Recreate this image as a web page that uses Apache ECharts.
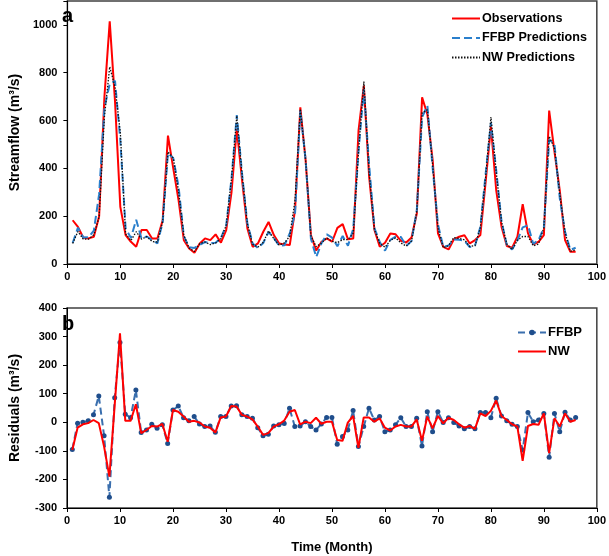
<!DOCTYPE html>
<html>
<head>
<meta charset="utf-8">
<script src="https://cdn.jsdelivr.net/npm/echarts@6/dist/echarts.min.js"></script>
<style>
html,body{margin:0;padding:0;background:#fff;}
#c{width:609px;height:556px;}
</style>
</head>
<body>
<div id="c"></div>
<script>
var months = [1,2,3,4,5,6,7,8,9,10,11,12,13,14,15,16,17,18,19,20,21,22,23,24,25,26,27,28,29,30,31,32,33,34,35,36,37,38,39,40,41,42,43,44,45,46,47,48,49,50,51,52,53,54,55,56,57,58,59,60,61,62,63,64,65,66,67,68,69,70,71,72,73,74,75,76,77,78,79,80,81,82,83,84,85,86,87,88,89,90,91,92,93,94,95,96];

var observations = [183,155,111,107,114,200,700,1015,680,239,121,93,72,142,142,107,107,183,537,400,267,100,65,47,86,
107,100,124,89,142,300,565,350,149,72,86,135,176,121,86,82,79,225,655,433,121,56,93,107,93,
151,167,103,107,560,746,364,142,72,89,128,124,97,90,111,211,697,625,433,128,72,61,103,114,120,
86,100,121,343,575,308,156,75,68,114,250,128,82,93,121,642,470,308,100,51,51];

var ffbpPred = [88,152,111,112,140,292,653,753,766,518,149,109,185,106,115,100,86,174,463,443,324,116,70,67,80,
92,87,89,109,162,357,623,376,169,86,67,88,134,108,77,78,128,210,642,435,106,29,87,124,110,
74,117,76,148,475,731,413,150,92,56,101,115,113,75,96,225,614,662,400,165,71,77,102,101,97,
71,77,155,377,591,392,178,80,61,99,153,162,84,101,152,520,501,275,135,59,68];

var nwPred = [86,136,104,104,122,197,615,825,740,550,126,98,135,104,115,94,92,177,469,443,304,120,67,52,85,
92,81,88,106,162,357,620,376,169,82,71,91,138,106,79,88,116,268,648,435,118,72,88,109,95,
89,102,102,129,471,763,381,144,86,70,99,109,88,75,96,221,632,645,412,150,68,77,111,107,101,
73,77,152,365,615,384,178,83,61,99,115,115,76,84,152,534,484,293,131,53,59];

var ffbpResid = [-95,-3,0,5,26,92,-47,-262,86,279,28,16,113,-36,-27,-7,-21,-9,-74,43,57,16,5,20,-6,
-15,-13,-35,20,20,57,58,26,20,14,-19,-47,-42,-13,-9,-4,49,-15,-13,2,-15,-27,-6,17,17,
-77,-50,-27,41,-85,-15,49,8,20,-33,-27,-9,16,-15,-15,14,-83,37,-33,37,-1,16,-1,-13,-23,
-15,-23,34,34,16,84,22,5,-7,-15,-97,34,2,8,31,-122,31,-33,35,8,17];

var nwResid = [-97,-19,-7,-3,8,-3,-85,-190,60,311,5,5,63,-38,-27,-13,-15,-6,-68,43,37,20,2,5,-1,
-15,-19,-36,17,20,57,55,26,20,10,-15,-44,-38,-15,-7,6,37,43,-7,2,-3,16,-5,2,2,
-62,-65,-1,22,-89,17,17,2,14,-19,-29,-15,-9,-15,-15,10,-65,20,-21,22,-4,16,8,-7,-19,
-13,-23,31,22,40,76,22,8,-7,-15,-135,-13,-6,-9,31,-108,14,-15,31,2,8];

var xTicks = [0,10,20,30,40,50,60,70,80,90,100];
var flowTicks = [0,200,400,600,800,1000];
var residTicks = [-300,-200,-100,0,100,200,300,400];

function pairs(xs, ys){ return xs.map(function(x,i){ return [x, ys[i]]; }); }

var FONT = 'Arial, "Liberation Sans", sans-serif';
var chart = echarts.init(document.getElementById('c'), null, {renderer:'canvas'});

function xAxisCfg(gi){
  return {
    gridIndex: gi, type:'value', min:0, max:100, interval:10,
    axisLine:{show:true, onZero:false, lineStyle:{color:'#000', width:1}},
    axisTick:{show:true, inside:false, length:4, lineStyle:{color:'#000'}},
    axisLabel:{color:'#000', fontWeight:'bold', fontSize:11, fontFamily:FONT, margin:7,
      formatter:function(v){ return xTicks.indexOf(v) >= 0 ? String(v) : ''; }},
    splitLine:{show:false}
  };
}

var hidden = {opacity:0};

var option = {
  animation:false,
  backgroundColor:'#fff',
  grid:[
    {left:57, top:1, width:541, height:263, show:true, borderColor:'#404040', borderWidth:1.5, backgroundColor:'transparent'},
    {left:57, top:308, width:541, height:200, show:true, borderColor:'#404040', borderWidth:1.5, backgroundColor:'transparent'}
  ],
  xAxis:[ xAxisCfg(0), Object.assign(xAxisCfg(1), {
      name:'Time (Month)', nameLocation:'middle', nameGap:33,
      nameTextStyle:{color:'#000', fontWeight:'bold', fontSize:13, fontFamily:FONT}
  })],
  yAxis:[
    {gridIndex:0, type:'value', min:0, max:1100, interval:200,
     name:'Streamflow (m³/s)', nameLocation:'middle', nameGap:45,
     nameTextStyle:{color:'#000', fontWeight:'bold', fontSize:14, fontFamily:FONT},
     axisLine:{show:true, lineStyle:{color:'#000', width:1}},
     axisTick:{show:true, length:4, lineStyle:{color:'#000'}},
     axisLabel:{color:'#000', fontWeight:'bold', fontSize:11, fontFamily:FONT, margin:10,
       formatter:function(v){ return flowTicks.indexOf(v) >= 0 ? String(v) : ''; }},
     splitLine:{show:false}},
    {gridIndex:1, type:'value', min:-300, max:400, interval:100,
     name:'Residuals (m³/s)', nameLocation:'middle', nameGap:45,
     nameTextStyle:{color:'#000', fontWeight:'bold', fontSize:14, fontFamily:FONT},
     axisLine:{show:true, onZero:false, lineStyle:{color:'#000', width:1}},
     axisTick:{show:true, length:4, lineStyle:{color:'#000'}},
     axisLabel:{color:'#000', fontWeight:'bold', fontSize:11, fontFamily:FONT, margin:10,
       formatter:function(v){ return residTicks.indexOf(v) >= 0 ? String(v) : ''; }},
     splitLine:{show:false}}
  ],
  legend:[
    {data:[{name:'Observations', itemStyle:hidden},{name:'FFBP Predictions', itemStyle:hidden},{name:'NW Predictions', itemStyle:hidden}],
     orient:'vertical', left:446, top:7,
     itemWidth:28, itemHeight:12, itemGap:6.5,
     textStyle:{color:'#000', fontWeight:'bold', fontSize:12.6, fontFamily:FONT, padding:[0,0,0,-3]}},
    {data:[{name:'FFBP'},{name:'NW', itemStyle:hidden}], orient:'vertical', left:512, top:321,
     itemWidth:28, itemHeight:7, itemGap:6,
     textStyle:{color:'#000', fontWeight:'bold', fontSize:13, fontFamily:FONT, padding:[0,0,0,-3]}}
  ],
  graphic:[
    {type:'text', left:62, top:6, style:{text:'a', fill:'#000', font:'bold 20px ' + FONT}},
    {type:'text', left:62, top:314, style:{text:'b', fill:'#000', font:'bold 20px ' + FONT}}
  ],
  series:[
    {name:'Observations', type:'line', xAxisIndex:0, yAxisIndex:0, data:pairs(months, observations),
     symbol:'none', lineStyle:{color:'#ff0000', width:2}, itemStyle:{color:'#ff0000'}, z:3},
    {name:'FFBP Predictions', type:'line', xAxisIndex:0, yAxisIndex:0, data:pairs(months, ffbpPred),
     symbol:'none', lineStyle:{color:'#2a7fcc', width:2, type:[8,4]}, itemStyle:{color:'#2a7fcc'}, z:4},
    {name:'NW Predictions', type:'line', xAxisIndex:0, yAxisIndex:0, data:pairs(months, nwPred),
     symbol:'none', lineStyle:{color:'#111', width:1.3, type:[1.5,1.5]}, itemStyle:{color:'#111'}, z:5},
    {name:'FFBP', type:'line', xAxisIndex:1, yAxisIndex:1, data:pairs(months, ffbpResid),
     symbol:'circle', symbolSize:5, showSymbol:true,
     lineStyle:{color:'#3a6fae', width:2, type:[7,4]}, itemStyle:{color:'#1f4e8c'}, z:3},
    {name:'NW', type:'line', xAxisIndex:1, yAxisIndex:1, data:pairs(months, nwResid),
     symbol:'none', lineStyle:{color:'#ff0000', width:2}, itemStyle:{color:'#ff0000'}, z:4}
  ]
};
chart.setOption(option);
</script>
</body>
</html>
